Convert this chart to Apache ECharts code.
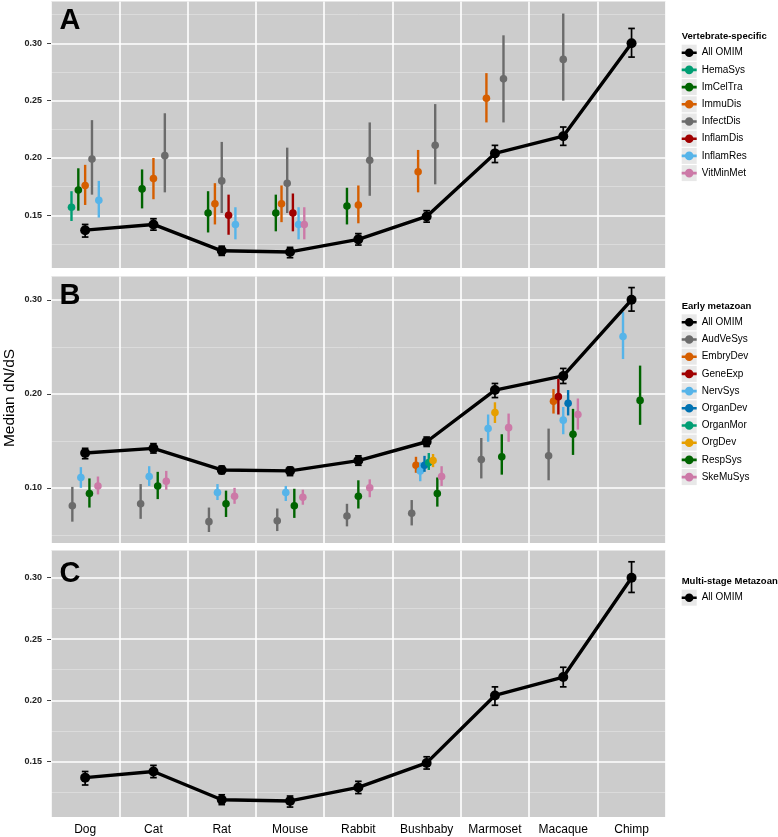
<!DOCTYPE html>
<html>
<head>
<meta charset="utf-8">
<script src="https://cdn.jsdelivr.net/npm/echarts@6/dist/echarts.min.js"></script>
<style>html,body{margin:0;padding:0;background:#fff}#c{width:778px;height:837px}</style>
</head>
<body>
<div id="c"></div>
<script>
const categories = ['Dog','Cat','Rat','Mouse','Rabbit','Bushbaby','Marmoset','Macaque','Chimp'];
const _ = null;
// each entry: [lower, median, upper] per category
const allOMIM = [[0.131,0.137,0.142],[0.137,0.142,0.147],[0.115,0.119,0.123],[0.113,0.118,0.122],[0.124,0.129,0.134],[0.144,0.149,0.154],[0.196,0.204,0.211],[0.211,0.219,0.227],[0.288,0.300,0.313]];

// Panel A: Vertebrate-specific
const HemaSys   = [[0.145,0.157,0.171],_,_,_,_,_,_,_,_];
const ImCelTra  = [[0.154,0.172,0.191],[0.156,0.173,0.190],[0.135,0.152,0.171],[0.136,0.152,0.168],[0.142,0.158,0.174],_,_,_,_];
const ImmuDis   = [[0.159,0.176,0.194],[0.164,0.182,0.200],[0.142,0.160,0.178],[0.144,0.160,0.176],[0.143,0.159,0.176],[0.170,0.188,0.207],[0.231,0.252,0.274],_,_];
const InfectDis = [[0.168,0.199,0.233],[0.170,0.202,0.239],[0.152,0.180,0.214],[0.152,0.178,0.209],[0.167,0.198,0.231],[0.177,0.211,0.247],[0.231,0.269,0.307],[0.250,0.286,0.326],_];
const InflamDis = [_,_,[0.133,0.150,0.168],[0.136,0.152,0.169],_,_,_,_,_];
const InflamRes = [[0.148,0.163,0.180],_,[0.129,0.142,0.157],[0.129,0.142,0.157],_,_,_,_,_];
const VitMinMet = [_,_,_,[0.129,0.142,0.157],_,_,_,_,_];

// Panel B: Early metazoan
const AudVeSys = [[0.064,0.081,0.101],[0.067,0.083,0.104],[0.053,0.064,0.079],[0.054,0.065,0.078],[0.059,0.070,0.083],[0.060,0.073,0.087],[0.110,0.130,0.153],[0.108,0.134,0.163],_];
const EmbryDev = [_,_,_,_,_,[0.116,0.124,0.133],_,[0.179,0.192,0.205],_];
const GeneExp  = [_,_,_,_,_,_,_,[0.178,0.197,0.216],_];
const NervSys  = [[0.100,0.111,0.122],[0.102,0.112,0.123],[0.087,0.095,0.104],[0.086,0.095,0.102],_,[0.107,0.118,0.127],[0.149,0.163,0.178],[0.157,0.172,0.186],[0.237,0.261,0.287]];
const OrganDev = [_,_,_,_,_,[0.117,0.124,0.134],_,[0.177,0.190,0.204],_];
const OrganMor = [_,_,_,_,_,[0.119,0.127,0.137],_,_,_];
const OrgDev   = [_,_,_,_,_,[0.122,0.129,0.136],[0.169,0.180,0.191],_,_];
const RespSys  = [[0.079,0.094,0.110],[0.088,0.102,0.117],[0.069,0.083,0.097],[0.068,0.081,0.099],[0.078,0.091,0.108],[0.080,0.094,0.111],[0.114,0.133,0.157],[0.135,0.157,0.184],[0.167,0.193,0.230]];
const SkeMuSys = [[0.093,0.102,0.112],[0.098,0.107,0.118],[0.083,0.091,0.100],[0.082,0.090,0.098],[0.090,0.100,0.109],[0.102,0.112,0.123],[0.149,0.164,0.179],[0.162,0.178,0.195],_];

const vertNames  = ['HemaSys','ImCelTra','ImmuDis','InfectDis','InflamDis','InflamRes','VitMinMet'];
const vertData   = [HemaSys, ImCelTra, ImmuDis, InfectDis, InflamDis, InflamRes, VitMinMet];
const vertColors = ['#009E73','#006400','#D55E00','#6b6b6b','#A00000','#56B4E9','#CC79A7'];
const earlyNames  = ['AudVeSys','EmbryDev','GeneExp','NervSys','OrganDev','OrganMor','OrgDev','RespSys','SkeMuSys'];
const earlyData   = [AudVeSys, EmbryDev, GeneExp, NervSys, OrganDev, OrganMor, OrgDev, RespSys, SkeMuSys];
const earlyColors = ['#6b6b6b','#D55E00','#A00000','#56B4E9','#0072B2','#009E73','#E69F00','#006400','#CC79A7'];

const ticksA = [0.15,0.20,0.25,0.30], minorA = [0.125,0.175,0.225,0.275,0.325];
const ticksB = [0.10,0.20,0.30],      minorB = [0.05,0.15,0.25];
const ticksC = [0.15,0.20,0.25,0.30], minorC = [0.125,0.175,0.225,0.275];
const legendTitles = ['Vertebrate-specific','Early metazoan','Multi-stage Metazoan'];
const panelLetters = ['A','B','C'];

// ---- layout / style ----
const FONT = 'Liberation Sans, Arial, sans-serif';
const panels = [
  {top:1.5,   height:266.5, min:0.104,  max:0.3365, ticks:ticksA, minor:minorA, legendTop:45.7,  titleY:36,  letterY:19.5},
  {top:276.5, height:266.5, min:0.0413, max:0.3248, ticks:ticksB, minor:minorB, legendTop:315.3, titleY:306, letterY:294.5},
  {top:550.5, height:266.5, min:0.1049, max:0.3222, ticks:ticksC, minor:minorC, legendTop:590.7, titleY:581, letterY:572.5}
];
const DODGE = 0.5;
const ITEM_STEP = 17.2;
const KEY_ICON = 'path://M0,0L0,0Z M15,14L15,14Z M0,5.7L15,5.7L15,8.3L0,8.3Z M11.8,7A4.3,4.3,0,1,1,3.2,7A4.3,4.3,0,1,1,11.8,7Z';

function dodge(list) {
  const out = list.map(() => []);
  for (let c = 0; c < categories.length; c++) {
    const present = [];
    list.forEach((s, k) => { if (s[c]) present.push(k); });
    const n = present.length;
    present.forEach((k, r) => {
      const d = list[k][c];
      const off = n > 1 ? (r - (n - 1) / 2) * DODGE / n : 0;
      out[k].push([c + off, d[0], d[1], d[2]]);
    });
  }
  return out;
}

function rangeSeries(name, data, color, xi, yi, black) {
  return {
    type: 'custom', name, xAxisIndex: xi, yAxisIndex: yi, data,
    encode: {x: 0, y: [1, 2, 3]}, itemStyle: {color}, z: black ? 5 : 2, silent: true,
    renderItem(params, api) {
      const x = api.value(0);
      const pl = api.coord([x, api.value(1)]);
      const pm = api.coord([x, api.value(2)]);
      const ph = api.coord([x, api.value(3)]);
      const lw = black ? 1.7 : 2.4;
      const ch = [{type: 'line', shape: {x1: pl[0], y1: pl[1], x2: ph[0], y2: ph[1]}, style: {stroke: color, lineWidth: lw}}];
      if (black) {
        const w = 3.3;
        ch.push({type: 'line', shape: {x1: pl[0]-w, y1: pl[1], x2: pl[0]+w, y2: pl[1]}, style: {stroke: color, lineWidth: 1.7}});
        ch.push({type: 'line', shape: {x1: ph[0]-w, y1: ph[1], x2: ph[0]+w, y2: ph[1]}, style: {stroke: color, lineWidth: 1.7}});
      }
      ch.push({type: 'circle', shape: {cx: pm[0], cy: pm[1], r: black ? 5 : 3.8}, style: {fill: color}});
      return {type: 'group', children: ch};
    }
  };
}

const grid = [], xAxis = [], yAxis = [], series = [], legend = [], graphic = [];
const groups = [
  {names: vertNames, data: vertData, colors: vertColors},
  {names: earlyNames, data: earlyData, colors: earlyColors},
  {names: [], data: [], colors: []}
];

panels.forEach((p, i) => {
  grid.push({left: 51, right: 112.3, top: p.top, height: p.height, show: true,
    backgroundColor: '#cccccc', borderWidth: 0, borderColor: 'transparent'});
  xAxis.push({type: 'category', gridIndex: i, data: categories, boundaryGap: true, position: 'bottom',
    axisLine: {show: false, onZero: false}, axisTick: {show: false},
    axisLabel: {show: i === 2, interval: 0, fontSize: 12, color: '#000', margin: 7, fontFamily: FONT},
    splitLine: {show: true, interval: 0, lineStyle: {color: '#ffffff', width: 1.6}}});
  xAxis.push({type: 'value', gridIndex: i, min: -0.5, max: 8.5, show: false, axisLine: {onZero: false}});
  yAxis.push({type: 'value', gridIndex: i, min: p.min, max: p.max, position: 'left',
    axisLine: {show: false, onZero: false},
    axisTick: {show: true, length: 4, customValues: p.ticks, lineStyle: {color: '#444', width: 1}},
    axisLabel: {customValues: p.ticks, formatter: v => v.toFixed(2), margin: 9, fontSize: 9,
      fontWeight: 'bold', color: '#222', fontFamily: FONT},
    splitLine: {show: true, lineStyle: {color: '#ffffff', width: 1.6}}});
  yAxis.push({type: 'value', gridIndex: i, min: p.min, max: p.max, position: 'left',
    axisLine: {show: false, onZero: false}, axisTick: {show: false, customValues: p.minor},
    axisLabel: {show: false, customValues: p.minor},
    splitLine: {show: true, lineStyle: {color: '#dedede', width: 0.8}}});

  const xi = 2 * i + 1, yi = 2 * i;
  const g = groups[i];
  const dodged = dodge(g.data);
  g.names.forEach((n, k) => series.push(rangeSeries(n, dodged[k], g.colors[k], xi, yi, false)));
  series.push({type: 'line', name: 'All OMIM', xAxisIndex: xi, yAxisIndex: yi,
    data: allOMIM.map((d, c) => [c, d[1]]), symbol: 'none', silent: true, z: 4,
    lineStyle: {color: '#000', width: 3.4}, itemStyle: {color: '#000'}});
  series.push(rangeSeries('All OMIM', allOMIM.map((d, c) => [c, d[0], d[1], d[2]]), '#000', xi, yi, true));

  const lnames = ['All OMIM'].concat(g.names);
  const lcolors = ['#000'].concat(g.colors);
  legend.push({orient: 'vertical', left: 681.7, top: p.legendTop, padding: 0,
    itemWidth: 15, itemHeight: 14, itemGap: ITEM_STEP - 14, icon: KEY_ICON, selectedMode: false, z: 6,
    textStyle: {fontSize: 10, color: '#000', fontFamily: FONT, lineHeight: 14},
    data: lnames.map((n, k) => ({name: n, itemStyle: {color: lcolors[k], borderWidth: 0}}))});
  lnames.forEach((n, k) => graphic.push({type: 'rect', z: 1,
    shape: {x: 681.7, y: p.legendTop + k * ITEM_STEP - 1, width: 15, height: 16},
    style: {fill: '#e8e8e8'}}));
  graphic.push({type: 'text', z: 3, x: 681.7, y: p.titleY,
    style: {text: legendTitles[i], fontSize: 9.5, fontWeight: 'bold', fill: '#000', fontFamily: FONT,
      align: 'left', verticalAlign: 'middle'}});
  graphic.push({type: 'text', z: 10, x: 59.5, y: p.letterY + 1.8,
    style: {text: panelLetters[i], fontSize: 29, fontWeight: 'bold', fill: '#000', fontFamily: FONT,
      align: 'left', verticalAlign: 'middle'}});
});

graphic.push({type: 'text', z: 3, x: 10, y: 398, rotation: Math.PI / 2,
  style: {text: 'Median dN/dS', fontSize: 15.5, fill: '#000', fontFamily: FONT, align: 'center', verticalAlign: 'middle'}});

const chart = echarts.init(document.getElementById('c'), null, {renderer: 'canvas'});
chart.setOption({
  animation: false,
  backgroundColor: '#ffffff',
  textStyle: {fontFamily: FONT},
  grid, xAxis, yAxis, series, legend, graphic
});
</script>
</body>
</html>
